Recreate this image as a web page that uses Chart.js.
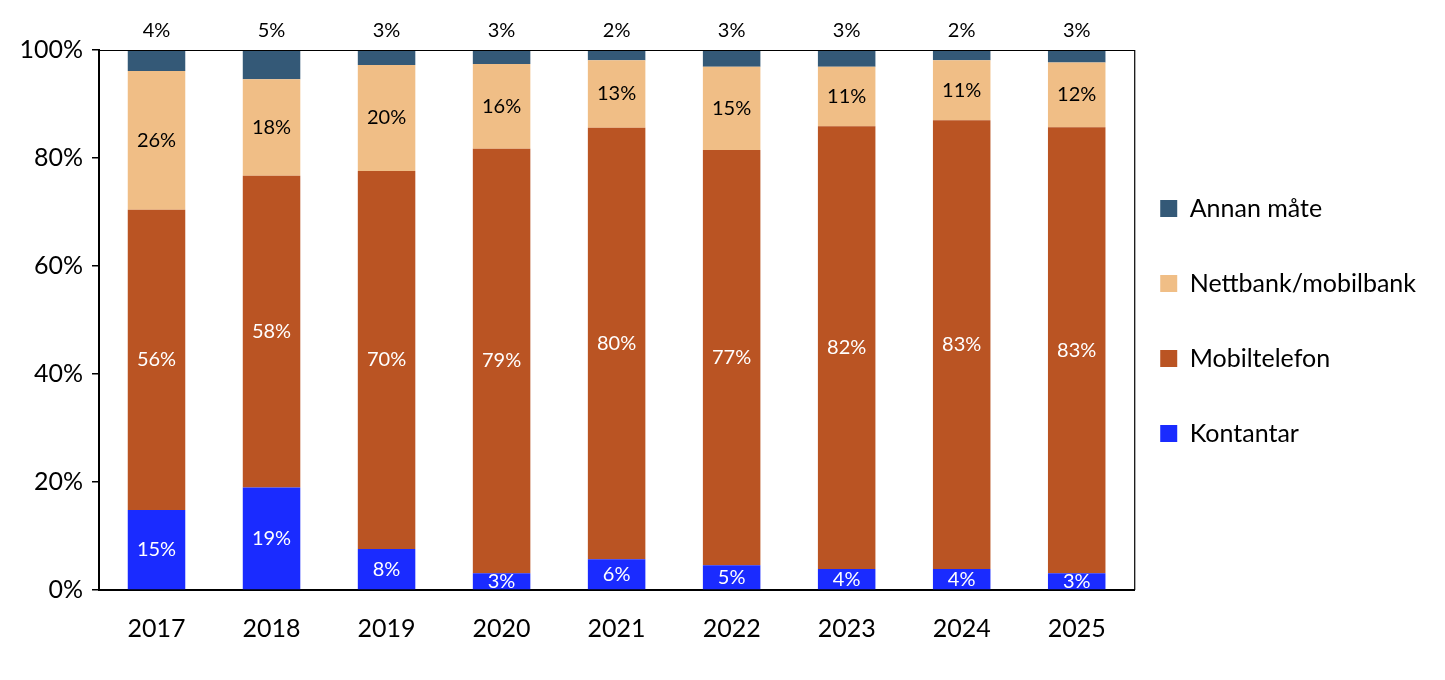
<!DOCTYPE html>
<html>
<head>
<meta charset="utf-8">
<script src="https://cdn.jsdelivr.net/npm/chart.js@4.4.1/dist/chart.umd.min.js"></script>
<style>
  body { margin: 0; background: #fff; }
  #wrap { width: 1445px; height: 680px; }
</style>
</head>
<body>
<div id="wrap"><canvas id="chart"></canvas></div>
<script>
const years = ["2017", "2018", "2019", "2020", "2021", "2022", "2023", "2024", "2025"];
const kontantar = [14.8, 19.0, 7.6, 3.1, 5.7, 4.6, 3.9, 3.9, 3.1];
const mobiltelefon = [55.6, 57.7, 70.0, 78.6, 79.9, 76.9, 82.0, 83.1, 82.6];
const nettbank = [25.7, 17.9, 19.6, 15.7, 12.5, 15.4, 11.0, 11.1, 12.0];
const annan = [3.9, 5.4, 2.8, 2.6, 1.9, 3.1, 3.1, 1.9, 2.5];
const yTicks = [0, 20, 40, 60, 80, 100];

const fontFamily = "Lato, 'Open Sans', sans-serif";

// draws the % labels on each segment, the top series above the plot
const segmentLabels = {
    id: "segmentLabels",
    afterDatasetsDraw(chart) {
        const ctx = chart.ctx;
        const area = chart.chartArea;
        ctx.save();
        ctx.font = "20px " + fontFamily;
        ctx.textAlign = "center";
        ctx.textBaseline = "middle";
        chart.data.datasets.forEach((ds, i) => {
            const meta = chart.getDatasetMeta(i);
            meta.data.forEach((bar, j) => {
                const text = Math.round(ds.data[j]) + "%";
                ctx.fillStyle = ds.labelColor;
                if (i === 3) {
                    ctx.fillText(text, bar.x, area.top - 19);
                } else {
                    ctx.fillText(text, bar.x, (bar.y + bar.base) / 2);
                }
            });
        });
        ctx.restore();
    }
};

// thin frame line on top and right of the plot
const plotFrame = {
    id: "plotFrame",
    afterDraw(chart) {
        const ctx = chart.ctx;
        const a = chart.chartArea;
        ctx.save();
        ctx.strokeStyle = "#000";
        ctx.lineWidth = 1.2;
        ctx.beginPath();
        ctx.moveTo(a.left, a.top + 0.5);
        ctx.lineTo(a.right + 0.5, a.top + 0.5);
        ctx.lineTo(a.right + 0.5, a.bottom);
        ctx.stroke();
        ctx.restore();
    }
};

// move the legend closer to the plot and centre it on the plot height
const legendNudge = {
    id: "legendNudge",
    afterLayout(chart) {
        const lg = chart.legend;
        lg.left -= 24;
        lg.right -= 24;
        lg.top -= 44;
        lg.bottom -= 44;
    }
};

new Chart(document.getElementById("chart").getContext("2d"), {
    type: "bar",
    data: {
        labels: years,
        datasets: [
            {label: "Kontantar", data: kontantar, backgroundColor: "#1A2BFF", labelColor: "#fff"},
            {label: "Mobiltelefon", data: mobiltelefon, backgroundColor: "#BA5423", labelColor: "#fff"},
            {label: "Nettbank/mobilbank", data: nettbank, backgroundColor: "#F0BE86", labelColor: "#000"},
            {label: "Annan måte", data: annan, backgroundColor: "#345977", labelColor: "#000"}
        ]
    },
    options: {
        responsive: true,
        maintainAspectRatio: false,
        devicePixelRatio: 1,
        animation: false,
        datasets: {
            bar: {categoryPercentage: 1, barPercentage: 0.5, borderWidth: 0}
        },
        layout: {
            padding: {top: 50, left: 0, right: -5, bottom: 0}
        },
        scales: {
            x: {
                stacked: true,
                grid: {display: false},
                border: {display: true, color: "#000", width: 2},
                ticks: {color: "#000", padding: 16, font: {family: fontFamily, size: 25}},
                afterFit: scale => { scale.height = 90; }
            },
            y: {
                stacked: true,
                min: 0,
                max: 100,
                afterBuildTicks: scale => { scale.ticks = yTicks.map(v => ({value: v})); },
                grid: {drawOnChartArea: false, drawTicks: true, tickLength: 7, color: "#000", lineWidth: 1.5},
                border: {display: true, color: "#000", width: 2},
                ticks: {
                    color: "#000",
                    padding: 9,
                    font: {family: fontFamily, size: 25},
                    callback: v => v + "%"
                },
                afterFit: scale => { scale.width = 99; }
            }
        },
        plugins: {
            legend: {
                position: "right",
                reverse: true,
                labels: {
                    color: "#000",
                    boxWidth: 17,
                    boxHeight: 17,
                    padding: 50,
                    font: {family: fontFamily, size: 25}
                }
            },
            tooltip: {enabled: false}
        }
    },
    plugins: [segmentLabels, plotFrame, legendNudge]
});
</script>
</body>
</html>
